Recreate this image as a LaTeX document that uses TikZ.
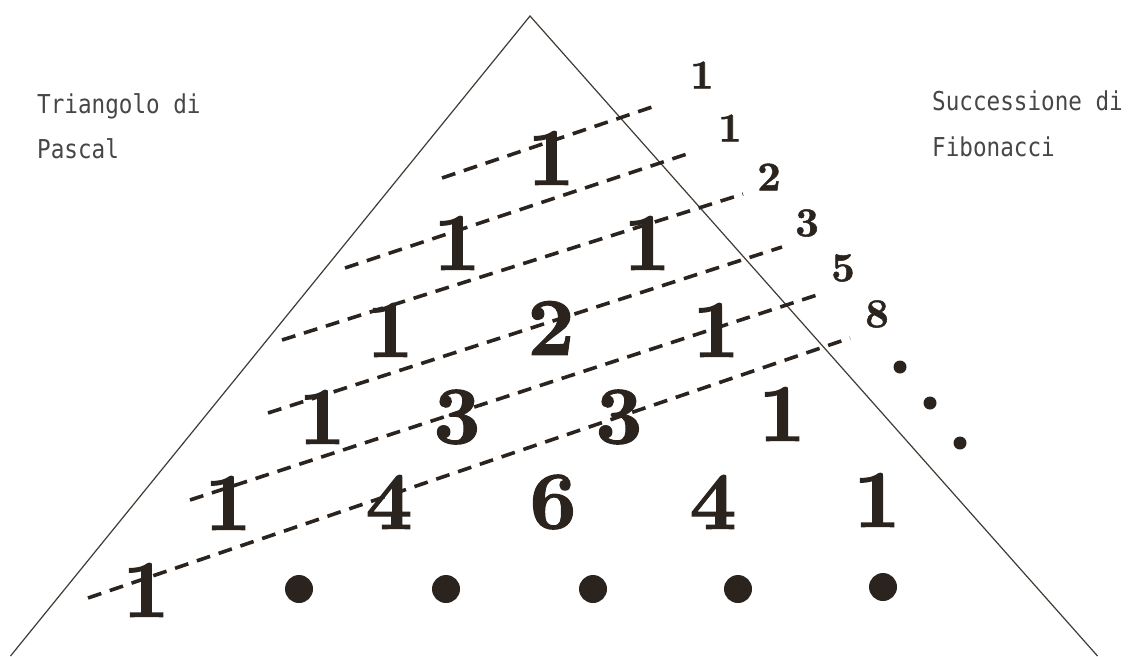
\documentclass[tikz,border=0pt]{standalone}
\usepackage{fontspec}
\newfontfamily\labelfont[FakeStretch=0.87]{DejaVu Sans Mono}
\newfontfamily\digitfont[FakeBold=1.3]{lmroman10-bold.otf}
\definecolor{ink}{RGB}{43,36,30}
\definecolor{txt}{RGB}{70,70,70}
\begin{document}
\begin{tikzpicture}[x=1pt,y=-1pt,
  big/.style={inner sep=0pt,text=ink,font=\fontsize{82}{82}\selectfont\digitfont},
  fib/.style={inner sep=0pt,text=ink,font=\fontsize{41}{41}\selectfont\digitfont},
  lab/.style={inner sep=0pt,anchor=base west,text=txt,font=\fontsize{26}{26}\selectfont\labelfont},
  side/.style={line width=1.2pt,draw=ink!90},
  diag/.style={line width=3.6pt,draw=ink,dash pattern=on 14pt off 9pt},
  bigdot/.style={circle,fill=ink,inner sep=0pt,minimum size=28pt},
  smalldot/.style={circle,fill=ink,inner sep=0pt,minimum size=13pt}]
\useasboundingbox (0,0) rectangle (1129,656);
% triangle
\coordinate (apex) at (530,16);
\coordinate (bl) at (10.5,656);
\coordinate (br) at (1097.5,656);
\draw[side] (bl) -- (apex) -- (br);
% dashed diagonals
\coordinate (a1) at (442,178); \coordinate (b1) at (658,105);
\coordinate (a2) at (345,268); \coordinate (b2) at (693,152);
\coordinate (a3) at (282,340); \coordinate (b3) at (743,194);
\coordinate (a4) at (268,413); \coordinate (b4) at (782,247);
\coordinate (a5) at (190,500); \coordinate (b5) at (817,295);
\coordinate (a6) at (88,598);  \coordinate (b6) at (850,338);
\foreach \i in {1,...,6} \draw[diag] (a\i) -- (b\i);
% Pascal numbers
\node[big] (r0a) at (551,158) {1};
\node[big] (r1a) at (457,243) {1};
\node[big] (r1b) at (647,243) {1};
\node[big] (r2a) at (390,330) {1};
\node[big] (r2b) at (551,328) {2};
\node[big] (r2c) at (716,330) {1};
\node[big] (r3a) at (322,417) {1};
\node[big] (r3b) at (457,417) {3};
\node[big] (r3c) at (619,417) {3};
\node[big] (r3d) at (782,414) {1};
\node[big] (r4a) at (228,503) {1};
\node[big] (r4b) at (389,502) {4};
\node[big] (r4c) at (553,502) {6};
\node[big] (r4d) at (713,502) {4};
\node[big] (r4e) at (877,500) {1};
\node[big] (r5a) at (146,590) {1};
\node[bigdot] (d1) at (299,589) {};
\node[bigdot] (d2) at (446,589) {};
\node[bigdot] (d3) at (593,589) {};
\node[bigdot] (d4) at (738,589) {};
\node[bigdot] (d5) at (883,587) {};
% Fibonacci numbers
\node[fib] (f1) at (702,75) {1};
\node[fib] (f2) at (730,128) {1};
\node[fib] (f3) at (769,177) {2};
\node[fib] (f4) at (807,223) {3};
\node[fib] (f5) at (843,268) {5};
\node[fib] (f6) at (877,314) {8};
\node[smalldot] (e1) at (900,367) {};
\node[smalldot] (e2) at (930,403) {};
\node[smalldot] (e3) at (960,443) {};
% labels
\node[lab] (t1) at (37,113) {Triangolo di};
\node[lab] (t2) at (37,158) {Pascal};
\node[lab] (s1) at (932,110) {Successione di};
\node[lab] (s2) at (932,156) {Fibonacci};
\end{tikzpicture}
\end{document}
